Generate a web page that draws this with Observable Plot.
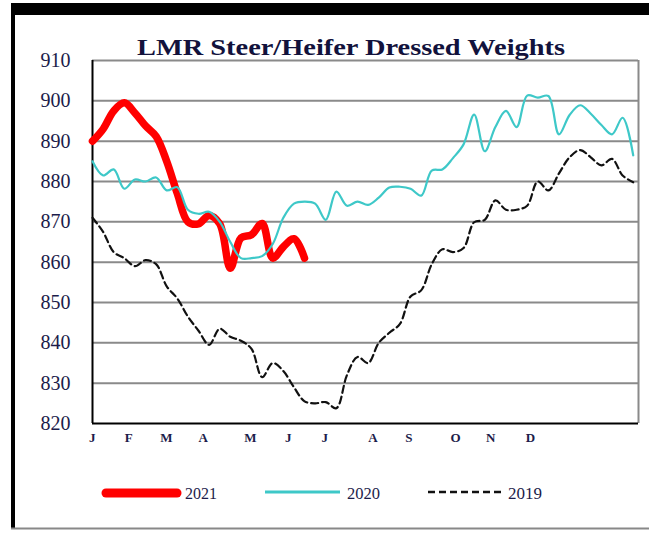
<!DOCTYPE html>
<html><head><meta charset="utf-8">
<script src="https://cdn.jsdelivr.net/npm/d3@7"></script>
<script src="https://cdn.jsdelivr.net/npm/@observablehq/plot@0.6"></script>
<style>
html,body{margin:0;padding:0;background:#fff;}
#wrap{position:relative;width:649px;height:533px;overflow:hidden;background:#fff;}
#wrap svg{position:absolute;left:0;top:0;}
</style></head><body><div id="wrap"></div>
<script>
// Week index (x categories)
const weeks = Array.from({length: 52}, (_, i) => i + 1);

// Series values (lbs)
const v2021 = [890, 893, 897.5, 899.5, 897, 893.8, 891.2, 885, 877, 870, 869.5, 871.6, 869.5, 858.5, 866, 866.8, 869.6, 861, 863.8, 865.8, 861];
const v2020 = [885, 881.5, 883, 878.2, 880.5, 880, 881, 877.8, 878.6, 873, 872, 872.5, 870, 865, 861, 861, 861.5, 864.5, 871, 874.5, 875, 874.5, 870.5, 877.5, 874, 875, 874.2, 876, 878.5, 878.7, 878.2, 876.5, 882.7, 883, 885.8, 889.2, 896.6, 887.5, 893.5, 897.5, 893.5, 901.3, 900.8, 901.2, 891.7, 896.5, 898.9, 896.8, 894, 891.7, 895.8, 886.5];
const v2019 = [871, 867.5, 862.5, 861, 859, 860.5, 859.5, 854, 851, 846.5, 843, 839.5, 843.5, 841.5, 840.5, 838.5, 831.5, 835, 833, 829, 825.5, 825, 825.3, 823.8, 832, 836.5, 835, 840, 842.5, 844.7, 851.5, 853, 859.5, 863.2, 862.5, 863.5, 869.9, 870.5, 875.3, 873, 873, 874, 880, 877.8, 882, 886, 887.8, 886, 884, 885.6, 881.5, 879.8];

// Axis tick labels
const yTicks = [820, 830, 840, 850, 860, 870, 880, 890, 900, 910];
const monthLabels = ["J", "F", "M", "A", "M", "J", "J", "A", "S", "O", "N", "D"];
const monthWeeks = [0.97, 4.42, 7.98, 11.44, 15.9, 19.46, 22.9, 27.44, 30.84, 35.25, 38.55, 42.3];

// Legend
const seriesNames = ["2021", "2020", "2019"];

const toRows = (vals) => vals.map((v, i) => ({week: weeks[i], value: v}));
const serif = "'Liberation Serif', 'Times New Roman', 'DejaVu Serif', serif";
const labelColor = "#1c1c4a";

const plot = Plot.plot({
  width: 649,
  height: 533,
  marginLeft: 92,
  marginRight: 11,
  marginTop: 60,
  marginBottom: 110,
  style: {fontFamily: serif, background: "transparent", overflow: "visible"},
  x: {domain: [1, 52.5], axis: null},
  y: {domain: [820, 910], axis: null},
  marks: [
    Plot.ruleY(yTicks.filter(d => d > 820), {stroke: "#8a8a8a", strokeWidth: 2}),
    Plot.ruleX([52.5], {stroke: "#8a8a8a", strokeWidth: 2}),
    Plot.ruleY([820], {stroke: "#000", strokeWidth: 2}),
    Plot.ruleX([1], {stroke: "#000", strokeWidth: 2}),
    Plot.axisY({ticks: yTicks, tickSize: 0, tickPadding: 22, fontSize: 20, fill: labelColor, label: null}),
    Plot.text(monthLabels, {x: monthWeeks, text: d => d, frameAnchor: "bottom", dy: 18, fontSize: 13, fontWeight: "bold", fill: labelColor}),
    Plot.line(toRows(v2021), {x: "week", y: "value", stroke: "#ff0000", strokeWidth: 7.5, curve: "catmull-rom", strokeLinecap: "round", strokeLinejoin: "round"}),
    Plot.line(toRows(v2020), {x: "week", y: "value", stroke: "#3ec8c8", strokeWidth: 2.2, curve: "catmull-rom"}),
    Plot.line(toRows(v2019), {x: "week", y: "value", stroke: "#111", strokeWidth: 2.2, strokeDasharray: "7,4", curve: "catmull-rom"})
  ]
});

const wrap = document.getElementById("wrap");
wrap.appendChild(plot);

// Overlay: frame, title, legend
const ns = "http://www.w3.org/2000/svg";
const ov = document.createElementNS(ns, "svg");
ov.setAttribute("width", 649);
ov.setAttribute("height", 533);
ov.style.pointerEvents = "none";
ov.innerHTML = `
  <rect x="11" y="3" width="638" height="12" fill="#000"/>
  <rect x="11" y="3" width="4" height="526" fill="#000"/>
  <line x1="11" y1="528.5" x2="649" y2="528.5" stroke="#888" stroke-width="2"/>
  <text x="137" y="55" font-family="${serif}" font-size="24" font-weight="bold" fill="#12123c"
        textLength="428" lengthAdjust="spacingAndGlyphs">LMR Steer/Heifer Dressed Weights</text>
  <line x1="106" y1="493" x2="177" y2="493" stroke="#ff0000" stroke-width="9" stroke-linecap="round"/>
  <text x="185" y="499" font-family="${serif}" font-size="17" fill="${labelColor}" textLength="32" lengthAdjust="spacingAndGlyphs">${seriesNames[0]}</text>
  <line x1="265" y1="492" x2="340" y2="492" stroke="#3ec8c8" stroke-width="3"/>
  <text x="347" y="499" font-family="${serif}" font-size="17" fill="${labelColor}" textLength="33" lengthAdjust="spacingAndGlyphs">${seriesNames[1]}</text>
  <line x1="428" y1="492" x2="502" y2="492" stroke="#111" stroke-width="2.5" stroke-dasharray="7,4"/>
  <text x="508" y="499" font-family="${serif}" font-size="17" fill="${labelColor}" textLength="34" lengthAdjust="spacingAndGlyphs">${seriesNames[2]}</text>
`;
wrap.appendChild(ov);
</script>
</body></html>
